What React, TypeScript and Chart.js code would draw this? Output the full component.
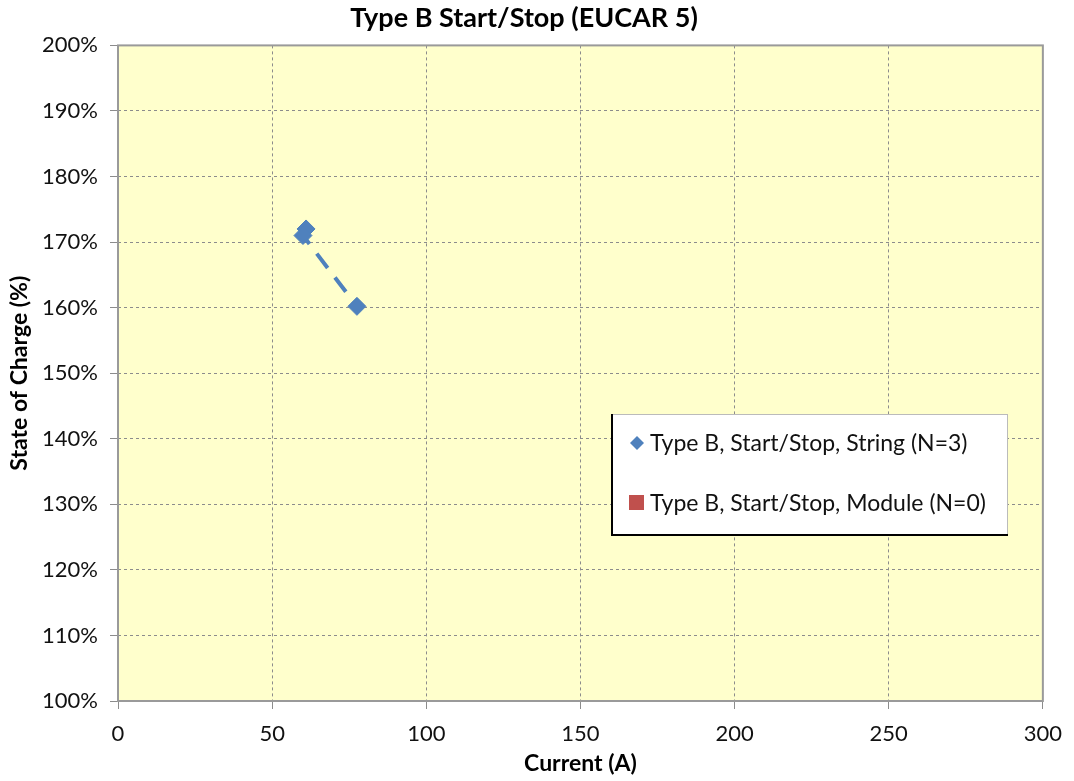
import React, { useEffect, useRef } from "react";
import { Chart, registerables } from "chart.js";

Chart.register(...registerables);

const chartTitle = "Type B Start/Stop (EUCAR 5)";
const xAxisTitle = "Current (A)";
const yAxisTitle = "State of Charge (%)";

const stringLabel = "Type B, Start/Stop, String (N=3)";
const stringCurrent = [61, 60, 77.5];
const stringSoc = [172, 171, 160.2];

const moduleLabel = "Type B, Start/Stop, Module (N=0)";
const moduleCurrent: number[] = [];
const moduleSoc: number[] = [];

const xTicks = [0, 50, 100, 150, 200, 250, 300];
const yTicks = [100, 110, 120, 130, 140, 150, 160, 170, 180, 190, 200];

const FONT = "Lato, 'Open Sans', sans-serif";
const BLUE = "#4F81BD";
const RED = "#C0504D";

const plotBg = {
  id: "plotBg",
  beforeDraw(chart: any) {
    const { ctx, chartArea: a } = chart;
    ctx.save();
    ctx.fillStyle = "#FFFFCC";
    ctx.fillRect(a.left, a.top, a.right - a.left, a.bottom - a.top);
    ctx.restore();
  },
  beforeDatasetsDraw(chart: any) {
    const { ctx, chartArea: a } = chart;
    ctx.save();
    ctx.strokeStyle = "#9a9a9a";
    ctx.lineWidth = 2;
    ctx.strokeRect(a.left, a.top, a.right - a.left, a.bottom - a.top);
    ctx.restore();
  },
};

const boxLegend = {
  id: "boxLegend",
  afterDraw(chart: any) {
    const { ctx } = chart;
    const x = 611, y = 414, w = 396, h = 120;
    ctx.save();
    ctx.fillStyle = "#ffffff";
    ctx.fillRect(x, y, w, h);
    ctx.strokeStyle = "#bbbbbb";
    ctx.lineWidth = 1;
    ctx.strokeRect(x + 0.5, y + 0.5, w, h);
    ctx.fillStyle = "#000";
    ctx.fillRect(x, y, 2, h + 1);
    ctx.fillRect(x, y + h, w + 1, 2);
    const ds = chart.data.datasets;
    ctx.font = `23px ${FONT}`;
    ctx.textBaseline = "middle";
    ctx.textAlign = "left";
    const y1 = y + 29, y2 = y + 89, mx = 637;
    ctx.fillStyle = ds[0].pointBackgroundColor;
    ctx.beginPath();
    ctx.moveTo(mx, y1 - 7);
    ctx.lineTo(mx + 7, y1);
    ctx.lineTo(mx, y1 + 7);
    ctx.lineTo(mx - 7, y1);
    ctx.closePath();
    ctx.fill();
    ctx.fillStyle = ds[1].pointBackgroundColor;
    ctx.fillRect(mx - 8, y2 - 8, 15, 15);
    ctx.fillStyle = "#111";
    ctx.fillText(ds[0].label, 650, y1 + 1);
    ctx.fillText(ds[1].label, 650, y2 + 1);
    ctx.restore();
  },
};

const gridOpts: any = {
  color: "#8c8c8c",
  drawTicks: true,
  tickLength: 8,
  tickColor: "#8c8c8c",
  tickBorderDash: [],
};

export default function App() {
  const ref = useRef<HTMLCanvasElement>(null);
  useEffect(() => {
    if (!ref.current) return;
    const chart = new Chart(ref.current, {
      type: "scatter",
      data: {
        datasets: [
          {
            label: stringLabel,
            data: stringCurrent.map((x, i) => ({ x, y: stringSoc[i] })),
            showLine: true,
            borderColor: BLUE,
            borderWidth: 4,
            borderDash: [18, 12],
            backgroundColor: BLUE,
            pointBackgroundColor: BLUE,
            pointBorderColor: BLUE,
            pointStyle: "rectRot",
            pointRadius: 9,
            pointBorderWidth: 1,
          },
          {
            label: moduleLabel,
            data: moduleCurrent.map((x, i) => ({ x, y: moduleSoc[i] })),
            backgroundColor: RED,
            pointBackgroundColor: RED,
            pointBorderColor: RED,
            pointStyle: "rect",
            pointRadius: 8,
          },
        ],
      },
      options: {
        responsive: false,
        animation: false,
        layout: { padding: { left: 0, right: 26, top: 0, bottom: 0 } },
        plugins: {
          legend: { display: false },
          tooltip: { enabled: false },
          title: {
            display: true,
            text: chartTitle,
            color: "#000",
            font: { family: FONT, size: 27, weight: "bold" },
            padding: { top: 2, bottom: 11 },
          },
        },
        scales: {
          x: {
            type: "linear",
            min: 0,
            max: 300,
            afterBuildTicks: (s: any) => {
              s.ticks = xTicks.map((v) => ({ value: v }));
            },
            afterFit: (s: any) => {
              s.height = 80;
            },
            border: { display: false, dash: [3, 3] },
            grid: gridOpts,
            ticks: {
              color: "#111",
              font: { family: FONT, size: 22 },
              padding: 12,
              maxRotation: 0,
            },
            title: {
              display: true,
              text: xAxisTitle,
              color: "#000",
              font: { family: FONT, size: 23, weight: "bold" },
              padding: { top: 0 },
            },
          },
          y: {
            type: "linear",
            min: 100,
            max: 200,
            afterBuildTicks: (s: any) => {
              s.ticks = yTicks.map((v) => ({ value: v }));
            },
            afterFit: (s: any) => {
              s.width = 118;
            },
            border: { display: false, dash: [3, 3] },
            grid: gridOpts,
            ticks: {
              color: "#111",
              font: { family: FONT, size: 22 },
              padding: 12,
              callback: (v: any) => `${v}%`,
            },
            title: {
              display: true,
              text: yAxisTitle,
              color: "#000",
              font: { family: FONT, size: 23, weight: "bold" },
              padding: { top: 6, bottom: 0 },
            },
          },
        },
      },
      plugins: [plotBg, boxLegend],
    });
    return () => chart.destroy();
  }, []);
  return (
    <div style={{ position: "absolute", left: 0, top: 0, width: 1074, height: 781, background: "#fff" }}>
      <canvas ref={ref} width={1074} height={781} />
    </div>
  );
}
